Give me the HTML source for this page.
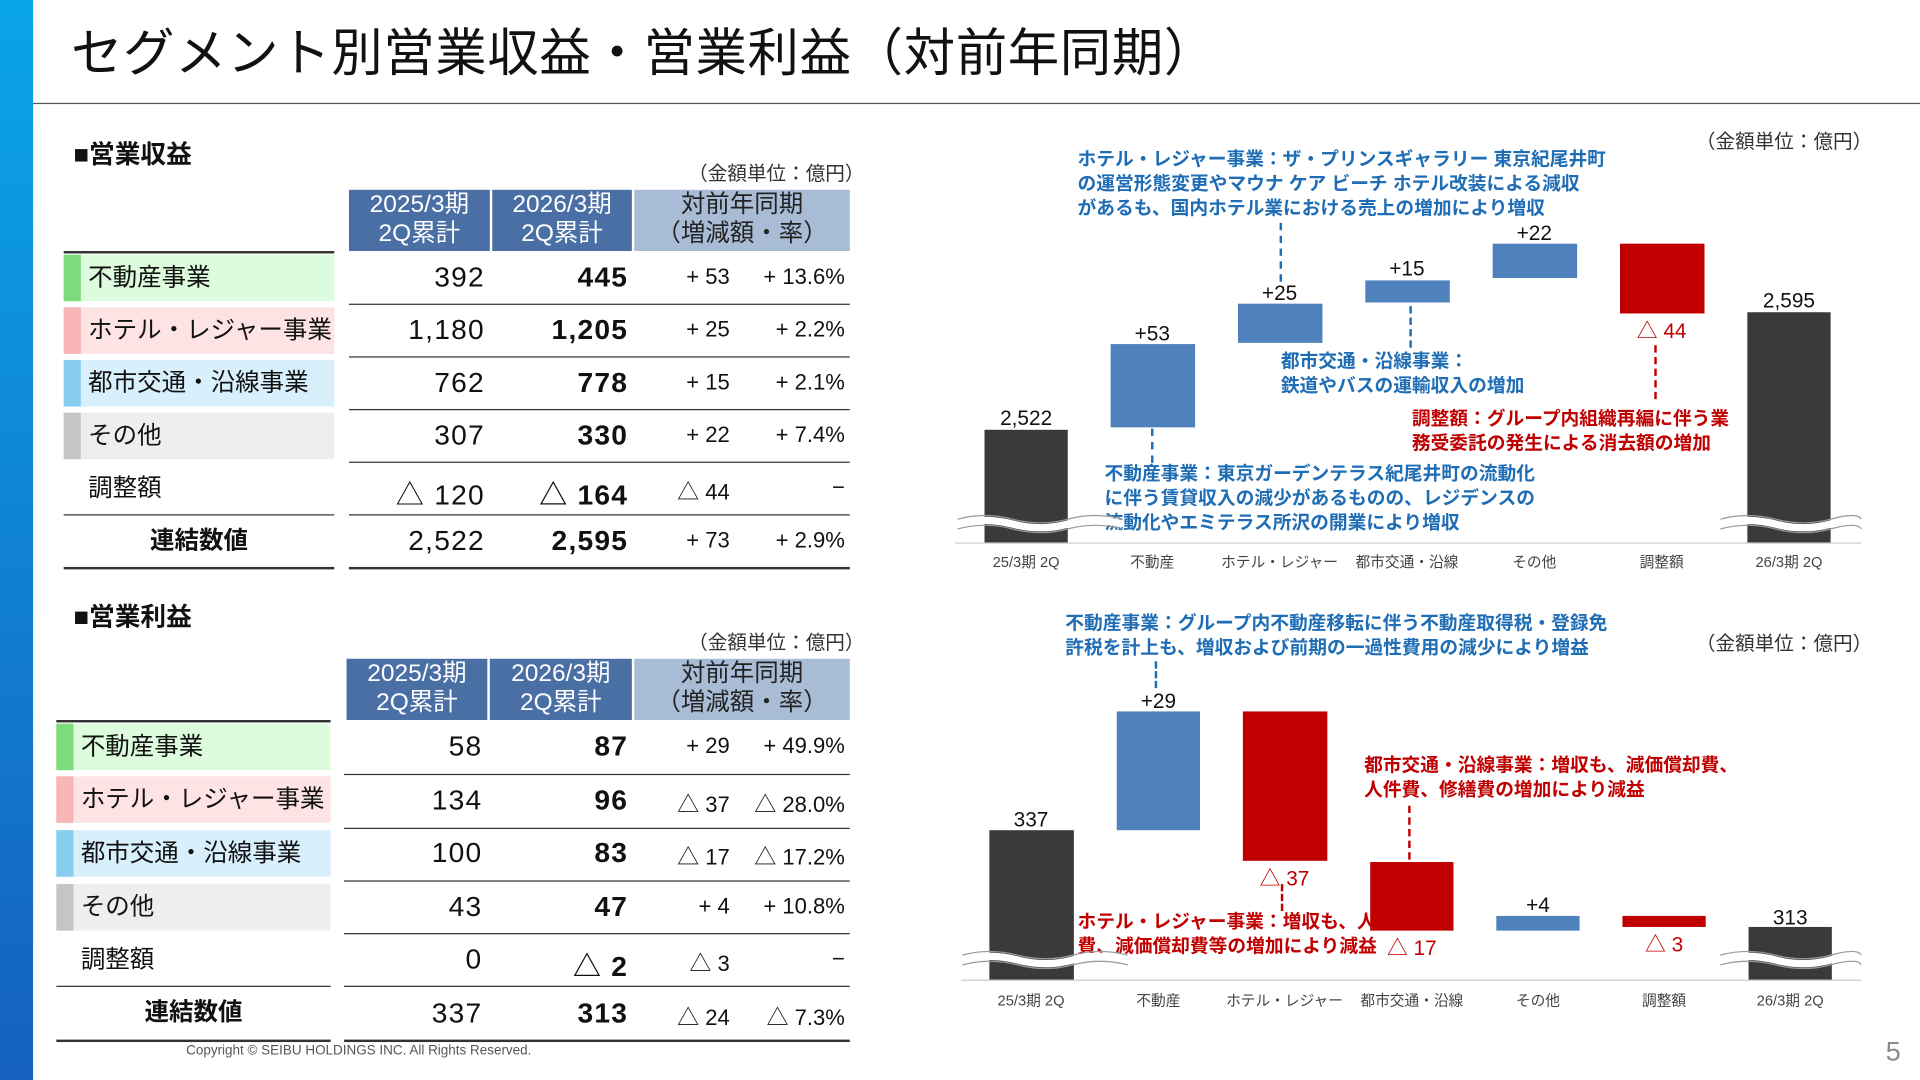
<!DOCTYPE html>
<html><head><meta charset="utf-8"><style>
*{margin:0;padding:0;box-sizing:border-box}
body{width:1920px;height:1080px;overflow:hidden;background:#fff;font-family:"Liberation Sans","Noto Sans CJK JP",sans-serif;color:#111}
#w{position:absolute;left:0;top:0;width:1568px;height:882px;transform:scale(1.22449);transform-origin:0 0}
.a{position:absolute}
.h{position:absolute;background:#4a6fa5;color:#fff;text-align:center;font-size:20px;line-height:24px}
.h2{position:absolute;background:#a9bcd6;color:#222;text-align:center;font-size:20px;line-height:24px}
.lab{position:absolute;font-size:20px;line-height:38px;padding-left:20px}
.lab i{position:absolute;left:0;top:0;width:14px;height:100%}
.v{position:absolute;font-size:23px;text-align:right;letter-spacing:1px}
.d{position:absolute;font-size:18px;text-align:right}
.ln{position:absolute;height:1px;background:#333}
.bar{position:absolute}
.bk{background:#3a3a3a}.bl{background:#4f81bd}.rd{background:#c00000}
.bv{position:absolute;font-size:17px;text-align:center;width:80px}
.cat{position:absolute;font-size:12px;color:#444;text-align:center;width:110px}
.ann{position:absolute;font-size:15.3px;line-height:20px;font-weight:bold;white-space:nowrap}
.b{color:#1f6db5}.r{color:#c00000}
.dash{position:absolute;border-left:2px dashed}
</style></head><body><div id="w">
<div class="a" style="left:0;top:0;width:27px;height:882px;background:linear-gradient(#0aa5e8,#1560c0)"></div>
<div class="a" style="left:58px;top:18px;font-size:42px;line-height:52px;letter-spacing:0.5px">セグメント別営業収益・営業利益（対前年同期）</div>
<div class="a" style="left:27px;top:84px;width:1541px;height:1px;background:#555"></div>
<div class="a" style="left:1540px;top:846px;font-size:22px;color:#888">5</div>
<div class="a" style="left:152px;top:852px;font-size:11px;color:#555">Copyright © SEIBU HOLDINGS INC. All Rights Reserved.</div>

<div class="a" style="left:60px;top:110px;font-size:21px;font-weight:bold">■営業収益</div>
<div class="a" style="left:562px;top:128px;font-size:16px;color:#333">（金額単位：億円）</div>
<div class="h" style="left:285px;top:155px;width:115px;height:50px">2025/3期<br>2Q累計</div>
<div class="h" style="left:402px;top:155px;width:114px;height:50px">2026/3期<br>2Q累計</div>
<div class="h2" style="left:518px;top:155px;width:176px;height:50px">対前年同期<br>（増減額・率）</div>
<div class="ln" style="left:52px;top:205px;width:221px;height:2px"></div>

<div class="lab" style="left:52px;top:208px;width:221px;background:#ddfbdd"><i style="background:#7ddc7d"></i>不動産事業</div>
<div class="lab" style="left:52px;top:251px;width:221px;background:#fde3e3"><i style="background:#f7b5b5"></i>ホテル・レジャー事業</div>
<div class="lab" style="left:52px;top:294px;width:221px;background:#d8f0fc"><i style="background:#86cdf0"></i>都市交通・沿線事業</div>
<div class="lab" style="left:52px;top:337px;width:221px;background:#eeeeee"><i style="background:#c5c5c5"></i>その他</div>
<div class="lab" style="left:52px;top:380px;width:221px">調整額</div>
<div class="lab" style="left:52px;top:423px;width:221px;text-align:center;font-weight:bold;padding-left:0">連結数値</div>

<div class="ln" style="left:285px;top:248px;width:409px"></div>
<div class="ln" style="left:285px;top:291px;width:409px"></div>
<div class="ln" style="left:285px;top:334px;width:409px"></div>
<div class="ln" style="left:285px;top:377px;width:409px"></div>
<div class="ln" style="left:52px;top:420px;width:221px"></div>
<div class="ln" style="left:285px;top:420px;width:409px"></div>
<div class="ln" style="left:52px;top:463px;width:221px;height:2px"></div>
<div class="ln" style="left:285px;top:463px;width:409px;height:2px"></div>

<div class="a" style="left:60px;top:488px;font-size:21px;font-weight:bold">■営業利益</div>
<div class="a" style="left:562px;top:511px;font-size:16px;color:#333">（金額単位：億円）</div>
<div class="h" style="left:283px;top:538px;width:115px;height:50px">2025/3期<br>2Q累計</div>
<div class="h" style="left:400px;top:538px;width:116px;height:50px">2026/3期<br>2Q累計</div>
<div class="h2" style="left:518px;top:538px;width:176px;height:50px">対前年同期<br>（増減額・率）</div>
<div class="ln" style="left:46px;top:588px;width:224px;height:2px"></div>
<div class="lab" style="left:46px;top:591px;width:224px;background:#ddfbdd"><i style="background:#7ddc7d"></i>不動産事業</div>
<div class="lab" style="left:46px;top:634px;width:224px;background:#fde3e3"><i style="background:#f7b5b5"></i>ホテル・レジャー事業</div>
<div class="lab" style="left:46px;top:678px;width:224px;background:#d8f0fc"><i style="background:#86cdf0"></i>都市交通・沿線事業</div>
<div class="lab" style="left:46px;top:722px;width:224px;background:#eeeeee"><i style="background:#c5c5c5"></i>その他</div>
<div class="lab" style="left:46px;top:765px;width:224px">調整額</div>
<div class="lab" style="left:46px;top:808px;width:224px;text-align:center;font-weight:bold;padding-left:0">連結数値</div>
<div class="ln" style="left:281px;top:632px;width:413px"></div>
<div class="ln" style="left:281px;top:676px;width:413px"></div>
<div class="ln" style="left:281px;top:719px;width:413px"></div>
<div class="ln" style="left:281px;top:762px;width:413px"></div>
<div class="ln" style="left:46px;top:805px;width:224px"></div>
<div class="ln" style="left:281px;top:805px;width:413px"></div>
<div class="ln" style="left:46px;top:849px;width:224px;height:2px"></div>
<div class="ln" style="left:281px;top:849px;width:413px;height:2px"></div>

<script>
function rows(top,step,x1,x2,data){let h='';data.forEach((r,i)=>{let y=top+i*step;
h+=`<div class="v" style="left:${x1-110}px;top:${y}px;width:110px">${r[0]}</div>`;
h+=`<div class="v" style="left:${x2-110}px;top:${y}px;width:110px;font-weight:bold">${r[1]}</div>`;
h+=`<div class="d" style="left:520px;top:${y+3}px;width:76px">${r[2]}</div>`;
h+=`<div class="d" style="left:600px;top:${y+3}px;width:90px">${r[3]}</div>`;});
document.getElementById('w').insertAdjacentHTML('beforeend',h);}
rows(213,43,396,513,[["392","445","+ 53","+ 13.6%"],["1,180","1,205","+ 25","+ 2.2%"],["762","778","+ 15","+ 2.1%"],["307","330","+ 22","+ 7.4%"],["△ 120","△ 164","△ 44","−"],["2,522","2,595","+ 73","+ 2.9%"]]);
rows(596,43.5,394,513,[["58","87","+ 29","+ 49.9%"],["134","96","△ 37","△ 28.0%"],["100","83","△ 17","△ 17.2%"],["43","47","+ 4","+ 10.8%"],["0","△ 2","△ 3","−"],["337","313","△ 24","△ 7.3%"]]);
</script>

<!-- Top chart -->
<div class="a" style="left:1385px;top:102px;font-size:16px;color:#333">（金額単位：億円）</div>
<div class="ln" style="left:780px;top:443px;width:740px;background:#ccc"></div>
<div class="bar bk" style="left:804px;top:351px;width:68px;height:92px"></div>
<div class="bar bl" style="left:907px;top:281px;width:69px;height:68px"></div>
<div class="bar bl" style="left:1011px;top:248px;width:69px;height:32px"></div>
<div class="bar bl" style="left:1115px;top:229px;width:69px;height:18px"></div>
<div class="bar bl" style="left:1219px;top:199px;width:69px;height:28px"></div>
<div class="bar rd" style="left:1323px;top:199px;width:69px;height:57px"></div>
<div class="bar bk" style="left:1427px;top:255px;width:68px;height:188px"></div>
<div class="bv" style="left:798px;top:332px">2,522</div>
<div class="bv" style="left:901px;top:263px">+53</div>
<div class="bv" style="left:1005px;top:230px">+25</div>
<div class="bv" style="left:1109px;top:210px">+15</div>
<div class="bv" style="left:1213px;top:181px">+22</div>
<div class="bv r" style="left:1317px;top:256px">△ 44</div>
<div class="bv" style="left:1421px;top:236px">2,595</div>
<div class="cat" style="left:783px;top:450px">25/3期 2Q</div>
<div class="cat" style="left:886px;top:450px">不動産</div>
<div class="cat" style="left:990px;top:450px">ホテル・レジャー</div>
<div class="cat" style="left:1094px;top:450px">都市交通・沿線</div>
<div class="cat" style="left:1198px;top:450px">その他</div>
<div class="cat" style="left:1302px;top:450px">調整額</div>
<div class="cat" style="left:1406px;top:450px">26/3期 2Q</div>
<div class="ann b" style="left:880px;top:121px">ホテル・レジャー事業：ザ・プリンスギャラリー 東京紀尾井町<br>の運営形態変更やマウナ ケア ビーチ ホテル改装による減収<br>があるも、国内ホテル業における売上の増加により増収</div>
<div class="dash b" style="left:1045px;top:182px;height:48px;border-color:#1f6db5"></div>
<div class="ann b" style="left:1046px;top:286px">都市交通・沿線事業：<br>鉄道やバスの運輸収入の増加</div>
<div class="dash" style="left:1151px;top:250px;height:34px;border-color:#1f6db5"></div>
<div class="ann r" style="left:1153px;top:333px">調整額：グループ内組織再編に伴う業<br>務受委託の発生による消去額の増加</div>
<div class="dash" style="left:1351px;top:282px;height:44px;border-color:#c00000"></div>
<div class="ann b" style="left:902px;top:378px">不動産事業：東京ガーデンテラス紀尾井町の流動化<br>に伴う賃貸収入の減少があるものの、レジデンスの<br>流動化やエミテラス所沢の開業により増収</div>
<div class="dash" style="left:940px;top:350px;height:28px;border-color:#1f6db5"></div>

<!-- Bottom chart -->
<div class="a" style="left:1385px;top:512px;font-size:16px;color:#333">（金額単位：億円）</div>
<div class="ln" style="left:785px;top:800px;width:735px;background:#ccc"></div>
<div class="bar bk" style="left:808px;top:678px;width:69px;height:122px"></div>
<div class="bar bl" style="left:912px;top:581px;width:68px;height:97px"></div>
<div class="bar rd" style="left:1015px;top:581px;width:69px;height:122px"></div>
<div class="bar rd" style="left:1119px;top:704px;width:68px;height:56px"></div>
<div class="bar bl" style="left:1222px;top:748px;width:68px;height:12px"></div>
<div class="bar rd" style="left:1325px;top:748px;width:68px;height:9px"></div>
<div class="bar bk" style="left:1428px;top:757px;width:68px;height:43px"></div>
<div class="bv" style="left:802px;top:660px">337</div>
<div class="bv" style="left:906px;top:563px">+29</div>
<div class="bv r" style="left:1009px;top:703px">△ 37</div>
<div class="bv r" style="left:1113px;top:760px">△ 17</div>
<div class="bv" style="left:1216px;top:730px">+4</div>
<div class="bv r" style="left:1319px;top:757px">△ 3</div>
<div class="bv" style="left:1422px;top:740px">313</div>
<div class="cat" style="left:787px;top:808px">25/3期 2Q</div>
<div class="cat" style="left:891px;top:808px">不動産</div>
<div class="cat" style="left:994px;top:808px">ホテル・レジャー</div>
<div class="cat" style="left:1098px;top:808px">都市交通・沿線</div>
<div class="cat" style="left:1201px;top:808px">その他</div>
<div class="cat" style="left:1304px;top:808px">調整額</div>
<div class="cat" style="left:1407px;top:808px">26/3期 2Q</div>
<div class="ann b" style="left:870px;top:500px">不動産事業：グループ内不動産移転に伴う不動産取得税・登録免<br>許税を計上も、増収および前期の一過性費用の減少により増益</div>
<div class="dash" style="left:943px;top:540px;height:22px;border-color:#1f6db5"></div>
<div class="ann r" style="left:1114px;top:616px">都市交通・沿線事業：増収も、減価償却費、<br>人件費、修繕費の増加により減益</div>
<div class="dash" style="left:1150px;top:658px;height:44px;border-color:#c00000"></div>
<div class="ann r" style="left:880px;top:744px">ホテル・レジャー事業：増収も、人件<br>費、減価償却費等の増加により減益</div>
<div class="dash" style="left:1046px;top:722px;height:22px;border-color:#c00000"></div>

<svg class="a" style="left:0;top:0" width="1568" height="882">
<g fill="none">
<path d="M782 428 q22 -6 45 0 t45 0 t45 0" stroke="#fff" stroke-width="6"/>
<path d="M782 424 q22 -6 45 0 t45 0 t45 0 M782 432 q22 -6 45 0 t45 0 t45 0" stroke="#999" stroke-width="1"/>
<path d="M1405 428 q22 -6 45 0 t45 0 t25 0" stroke="#fff" stroke-width="6"/>
<path d="M1405 424 q22 -6 45 0 t45 0 t25 0 M1405 432 q22 -6 45 0 t45 0 t25 0" stroke="#999" stroke-width="1"/>
<path d="M786 784 q22 -6 45 0 t45 0 t45 0" stroke="#fff" stroke-width="6"/>
<path d="M786 780 q22 -6 45 0 t45 0 t45 0 M786 788 q22 -6 45 0 t45 0 t45 0" stroke="#999" stroke-width="1"/>
<path d="M1405 784 q22 -6 45 0 t45 0 t25 0" stroke="#fff" stroke-width="6"/>
<path d="M1405 780 q22 -6 45 0 t45 0 t25 0 M1405 788 q22 -6 45 0 t45 0 t25 0" stroke="#999" stroke-width="1"/>
</g></svg>
</div></body></html>
